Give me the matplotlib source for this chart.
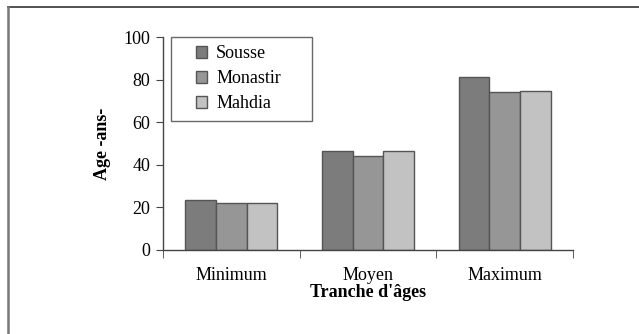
import numpy as np
import matplotlib.pyplot as plt
from matplotlib.lines import Line2D
from matplotlib.patches import Rectangle
from matplotlib.legend_handler import HandlerPatch

categories = ['Minimum', 'Moyen', 'Maximum']
regions = ['Sousse', 'Monastir', 'Mahdia']
sousse = [23.5, 46.5, 81.3]
monastir = [22.0, 44.0, 74.0]
mahdia = [22.0, 46.5, 74.8]

colors = ['#7c7c7c', '#969696', '#c2c2c2']

plt.rcParams['font.family'] = ['Liberation Serif', 'DejaVu Serif']
fs = 13


def square_right(legend, orig_handle, xdescent, ydescent, width, height, fontsize):
    # small square pushed to the right end of the handle box
    return Rectangle((width - height - xdescent, -ydescent), height, height)


fig = plt.figure(figsize=(6.39, 3.34), dpi=100)
ax = fig.add_axes([0.255, 0.2515, 0.642, 0.6377])

# outer frame (only top and left edges are visible)
fig.add_artist(Line2D([8 / 639, 1.0], [1 - 7 / 334, 1 - 7 / 334], transform=fig.transFigure,
                      color='#333333', lw=1.2))
fig.add_artist(Line2D([8 / 639, 8 / 639], [0, 1 - 7 / 334], transform=fig.transFigure,
                      color='#777777', lw=1.8))

x = np.arange(len(categories))
w = 0.225
handles = []
for i, (name, vals) in enumerate(zip(regions, [sousse, monastir, mahdia])):
    b = ax.bar(x + (i - 1) * w, vals, width=w, color=colors[i], edgecolor='#555555',
               linewidth=1.0, label=name, zorder=2)
    handles.append(b.patches[0])

ax.set_xlim(-0.5, 2.5)
ax.set_ylim(0, 100)
ax.set_yticks([0, 20, 40, 60, 80, 100])
ax.set_xticks(x)
ax.set_xticklabels(categories, fontsize=fs)
ax.set_xticks([-0.5, 0.5, 1.5, 2.5], minor=True)
ax.tick_params(axis='x', which='major', length=0, pad=12)
ax.tick_params(axis='x', which='minor', length=6, direction='out', color='#444444')
ax.tick_params(axis='y', length=5, direction='out', color='#444444', labelsize=fs, pad=4)

for side in ['top', 'right']:
    ax.spines[side].set_visible(False)
for side in ['left', 'bottom']:
    ax.spines[side].set_color('#444444')
    ax.spines[side].set_linewidth(1.0)

ax.set_xlabel("Tranche d'âges", fontsize=fs, fontweight='bold', labelpad=0)
ax.set_ylabel('Age -ans-', fontsize=fs, fontweight='bold', labelpad=9)

leg = ax.legend(handles, regions, loc='upper left',
                bbox_to_anchor=(0.0195, 1.0, 0.344, 0.0), mode='expand',
                fontsize=fs, frameon=True, fancybox=False, edgecolor='#444444',
                handlelength=1.55, handleheight=0.6, handletextpad=0.5,
                labelspacing=0.45, borderpad=0.45, borderaxespad=0,
                handler_map={Rectangle: HandlerPatch(patch_func=square_right)})
leg.get_frame().set_linewidth(1.0)

fig.savefig('out.png', dpi=100)
